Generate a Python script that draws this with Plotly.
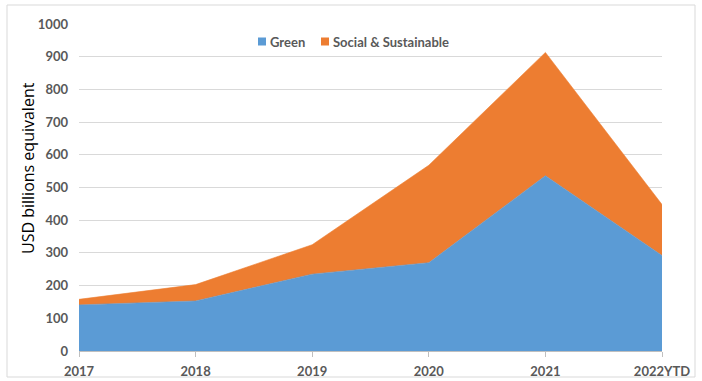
import plotly.graph_objects as go

# Annual issuance, USD billions equivalent
years = ["2017", "2018", "2019", "2020", "2021", "2022YTD"]
green = [141, 153, 235, 270, 536, 292]
social_sustainable = [17, 50, 90, 298, 377, 156]

series_names = ["Green", "Social & Sustainable"]
series_colors = ["#5B9BD5", "#ED7D31"]

x_pos = list(range(len(years)))

fig = go.Figure()
for name, vals, col in zip(series_names, [green, social_sustainable], series_colors):
    fig.add_trace(go.Scatter(
        x=x_pos, y=vals, name=name, mode="lines",
        stackgroup="one", line=dict(width=0.6, color=col),
        fillcolor=col, showlegend=False,
    ))

L, R, T, B = 79, 40, 24, 30
W, H = 702, 381
pw, ph = W - L - R, H - T - B

def px_x(p):
    return (p - L) / pw

def px_y(p):
    return (H - B - p) / ph

# Legend: small square swatches with labels, centred above the plot
legend_items = [(258, 268), (321, 331)]
shapes = [dict(
    type="rect", xref="paper", yref="paper",
    x0=px_x(7), x1=px_x(695), y0=px_y(377), y1=px_y(5),
    line=dict(color="#D9D9D9", width=1), fillcolor="rgba(0,0,0,0)",
    layer="below",
)]
annotations = []
for (sx, tx), name, col in zip(legend_items, series_names, series_colors):
    shapes.append(dict(
        type="rect", xref="paper", yref="paper",
        x0=px_x(sx), x1=px_x(sx + 8), y0=px_y(45.5), y1=px_y(37.5),
        line=dict(width=0), fillcolor=col,
    ))
    annotations.append(dict(
        xref="paper", yref="paper", x=px_x(tx), y=px_y(41.5),
        xanchor="left", yanchor="middle", showarrow=False, text=name,
        font=dict(size=13, color="#595959", family="Lato, sans-serif", weight="bold"),
    ))

# Vertical axis title
annotations.append(dict(
    xref="paper", yref="paper", x=px_x(28), y=px_y(168),
    xanchor="center", yanchor="middle", showarrow=False, textangle=-90,
    text="USD billions equivalent",
    font=dict(size=16, color="#000000", family="Open Sans, sans-serif"),
))

fig.update_layout(
    width=W, height=H,
    margin=dict(l=L, r=R, t=T, b=B, autoexpand=False),
    paper_bgcolor="white", plot_bgcolor="white",
    font=dict(family="Lato, Open Sans, sans-serif", color="#595959"),
    showlegend=False,
    xaxis=dict(
        range=[0, 5], tickvals=x_pos, ticktext=years,
        showgrid=False, zeroline=False, automargin=False,
        showline=True, linecolor="#BFBFBF", linewidth=1,
        ticks="outside", ticklen=5, tickcolor="#BFBFBF",
        tickfont=dict(size=13, color="#595959", weight="bold"),
        ticklabelstandoff=3,
    ),
    yaxis=dict(
        range=[0, 1000], dtick=100, automargin=False,
        showgrid=True, gridcolor="#D9D9D9", gridwidth=1,
        zeroline=False, showline=False,
        tickfont=dict(size=13, color="#595959", weight="bold"),
        ticklabelstandoff=10,
    ),
    shapes=shapes,
    annotations=annotations,
)

fig.write_html("out.html")
